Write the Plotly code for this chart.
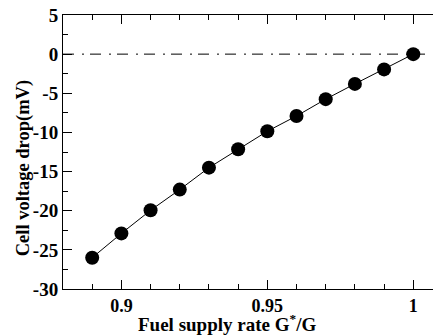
import plotly.graph_objects as go

x_rate = [0.89, 0.90, 0.91, 0.92, 0.93, 0.94, 0.95, 0.96, 0.97, 0.98, 0.99, 1.00]
v_drop = [-26.0, -22.9, -19.95, -17.3, -14.5, -12.15, -9.85, -7.9, -5.75, -3.8, -1.95, 0.0]
y_ticks = [5, 0, -5, -10, -15, -20, -25, -30]
x_ticks = [0.9, 0.95, 1.0]
x_tick_labels = ["0.9", "0.95", "1"]

FONT = "Liberation Serif"

fig = go.Figure()
fig.add_trace(go.Scatter(
    x=[0.88, 1.01], y=[0, 0], mode="lines",
    line=dict(color="black", width=1, dash="11px,8px,2px,6px"),
    hoverinfo="skip", showlegend=False))
fig.add_trace(go.Scatter(
    x=x_rate, y=v_drop, mode="lines+markers",
    line=dict(color="black", width=1),
    marker=dict(color="black", size=14, line=dict(width=0)),
    showlegend=False))

fig.update_layout(
    width=433, height=335,
    margin=dict(l=63, r=0, t=15, b=46),
    paper_bgcolor="white", plot_bgcolor="white",
    font=dict(family=FONT, color="black", size=18, weight="bold"),
    annotations=[
        dict(text="<b>Fuel supply rate G<sup>*</sup>/G</b>", xref="paper", yref="paper",
             x=(227 - 63) / 370, y=-0.072, xanchor="center", yanchor="top",
             showarrow=False, font=dict(family=FONT, size=19, color="black", weight="bold")),
        dict(text="<b>Cell voltage drop(mV)</b>", xref="paper", yref="paper",
             x=-0.072, y=0.44, xanchor="right", yanchor="middle", textangle=-90,
             showarrow=False, font=dict(family=FONT, size=18.5, color="black", weight="bold")),
    ],
)

fig.update_xaxes(
    range=[0.88, 1.00676],
    tickvals=x_ticks, ticktext=["<b>%s</b>" % t for t in x_tick_labels],
    ticks="inside", ticklen=9, tickwidth=1, tickcolor="black",
    minor=dict(dtick=0.01, tick0=0.88, ticks="inside", ticklen=5, tickwidth=1, tickcolor="black"),
    showline=True, linecolor="black", linewidth=1, mirror="ticks",
    showgrid=False, zeroline=False,
    tickfont=dict(family=FONT, size=18, color="black", weight="bold"),
)
fig.update_yaxes(
    range=[-30, 5],
    tickvals=y_ticks, ticktext=["<b>%d</b>" % t for t in y_ticks],
    ticks="inside", ticklen=9, tickwidth=1, tickcolor="black",
    minor=dict(dtick=2.5, tick0=0, ticks="inside", ticklen=5, tickwidth=1, tickcolor="black"),
    showline=True, linecolor="black", linewidth=1, mirror=False,
    showgrid=False, zeroline=False,
    tickfont=dict(family=FONT, size=19, color="black", weight="bold"),
)

fig.write_html("out.html")
